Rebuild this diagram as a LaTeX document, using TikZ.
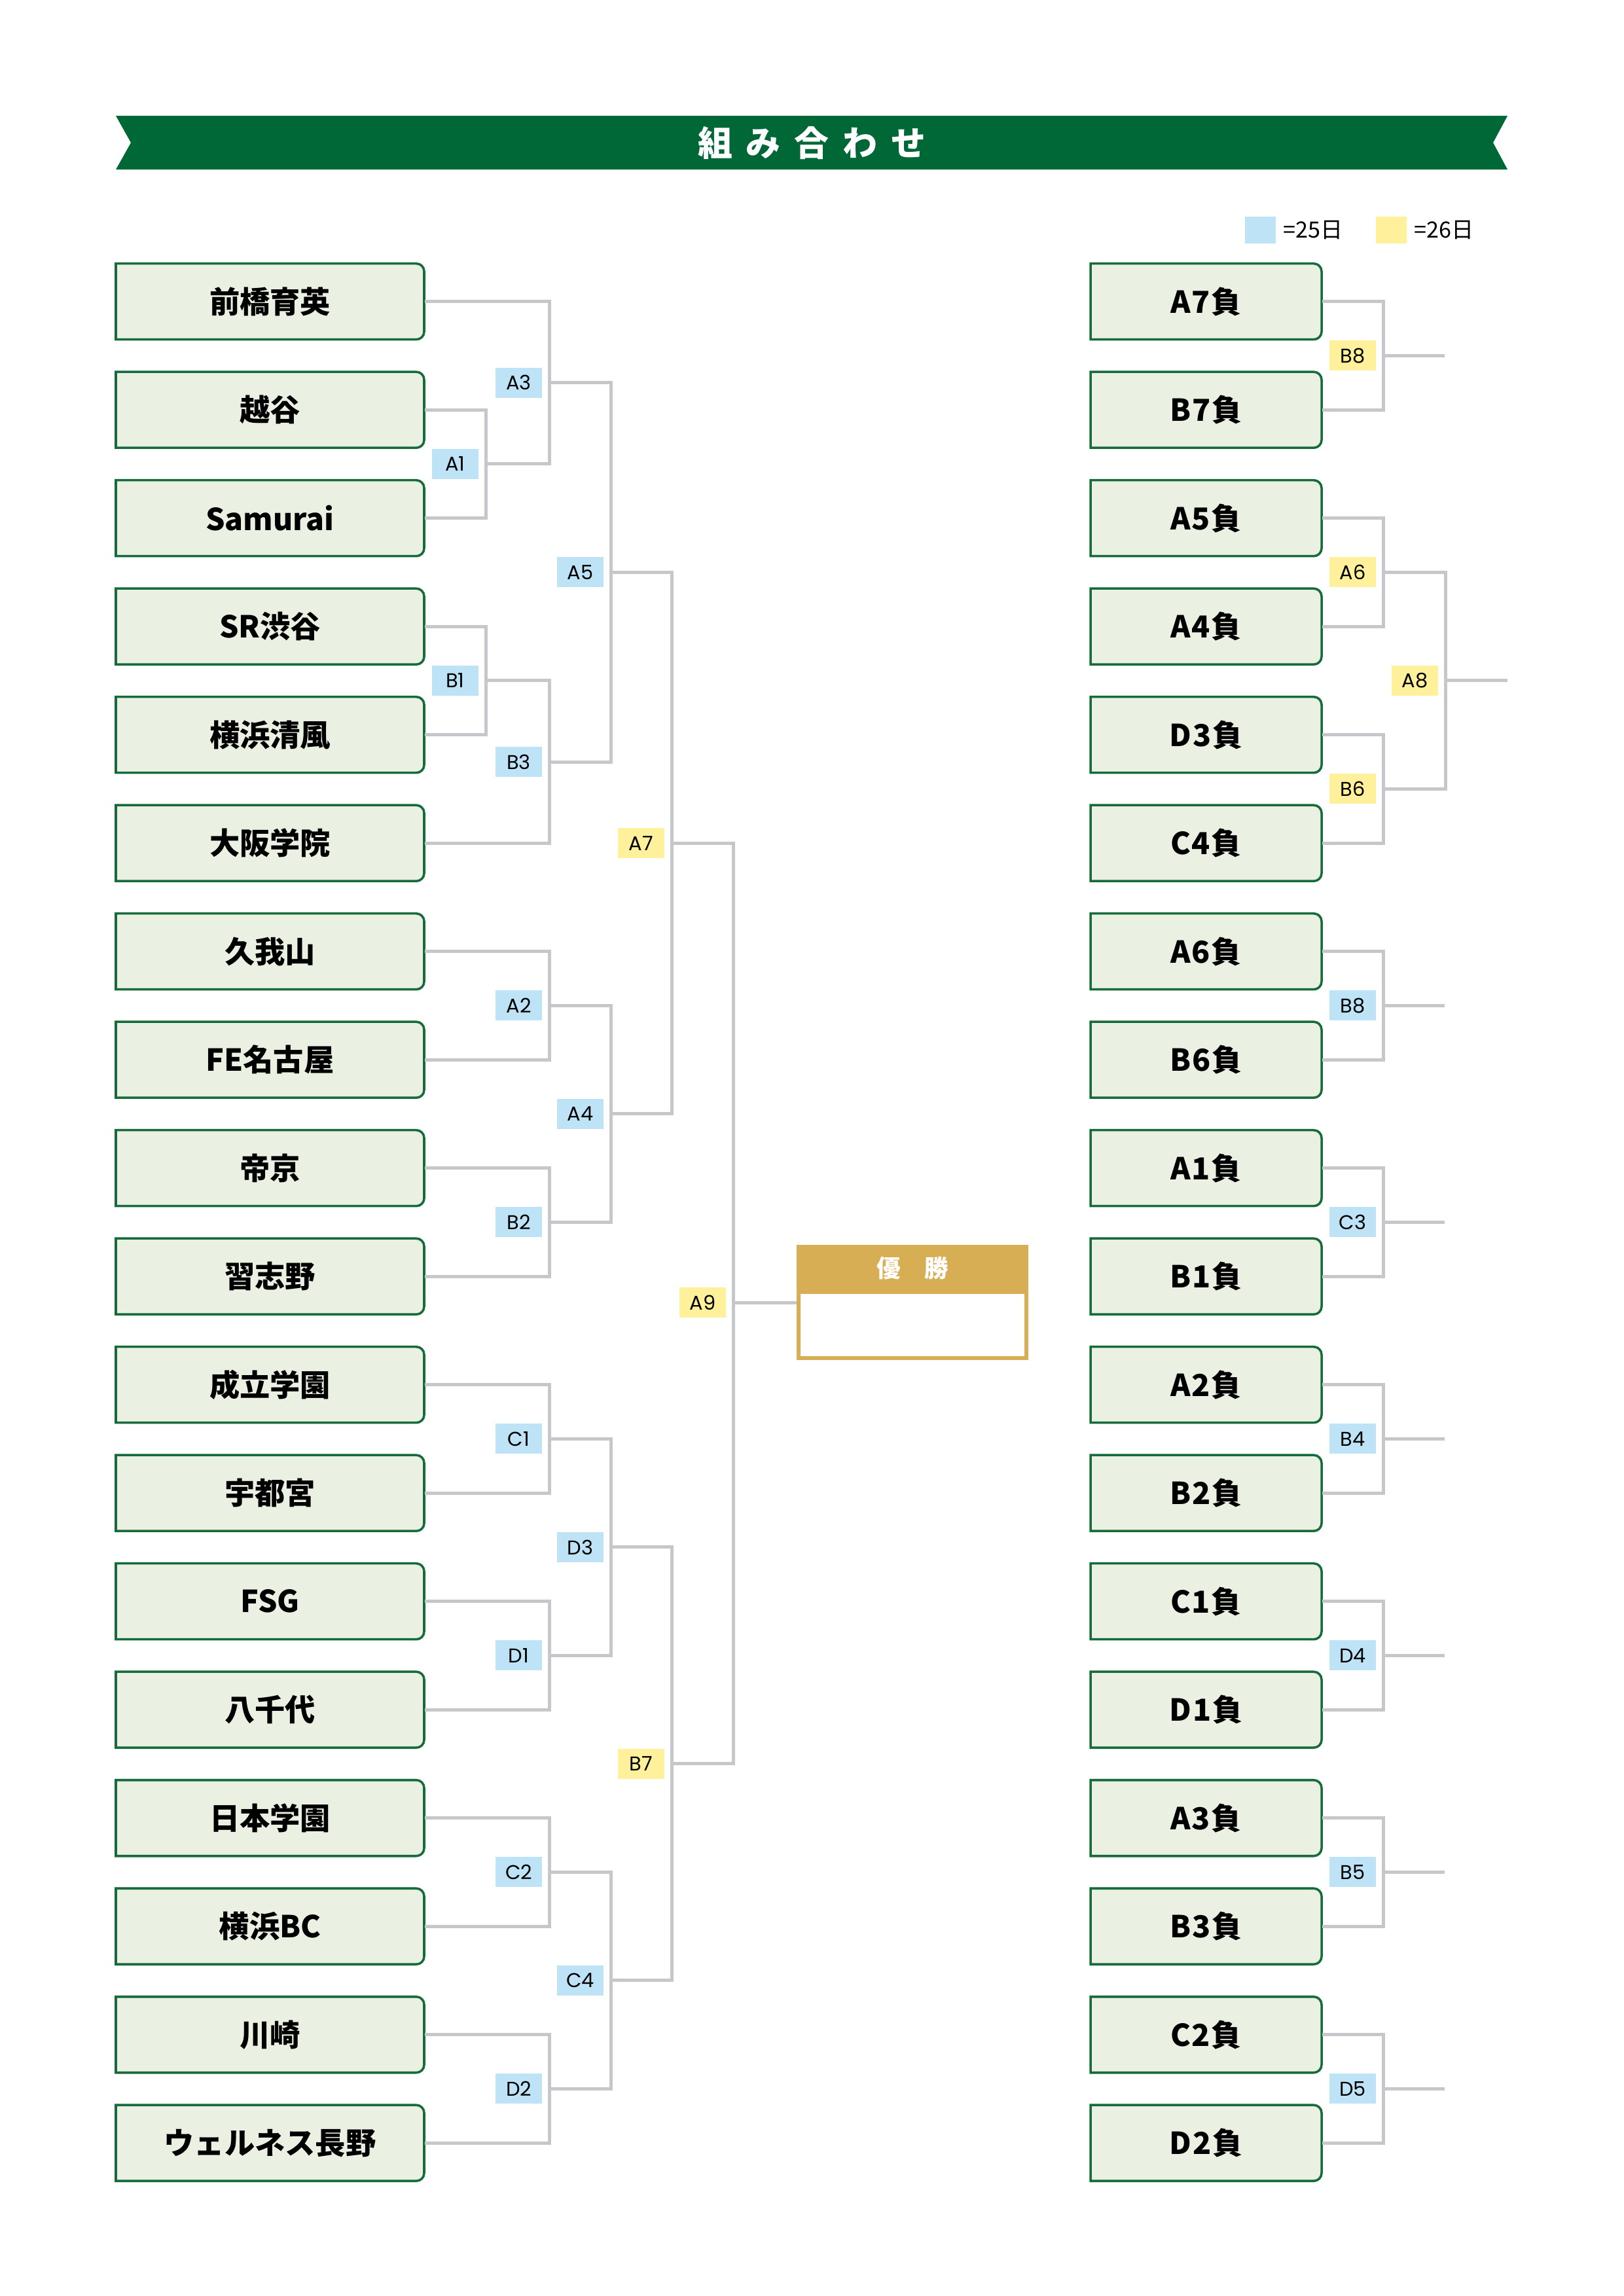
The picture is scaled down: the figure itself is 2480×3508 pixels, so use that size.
\documentclass[tikz,border=0pt]{standalone}
\usepackage{fontspec}
\newfontfamily\jp{Noto Sans CJK JP}
\newfontfamily\labfont{Poppins}
\definecolor{bannergreen}{RGB}{0,104,55}
\definecolor{boxfill}{RGB}{234,241,226}
\definecolor{boxline}{RGB}{22,107,58}
\definecolor{linegray}{RGB}{198,199,202}
\definecolor{labblue}{RGB}{190,227,247}
\definecolor{labyellow}{RGB}{255,240,155}
\definecolor{gold}{RGB}{216,174,84}
\newcommand\tmbox[6]{%
  \filldraw[boxshape] (#2,{-#4-58}) -- (#2,{-#4+58}) -- ({#3-12},{-#4+58})
     arc[start angle=90,end angle=0,radius=2.88pt] -- (#3,{-#4-46})
     arc[start angle=0,end angle=-90,radius=2.88pt] -- cycle;
  \node[#5] (#1) at ({(#2+#3)/2},-#4) {#6};
}
\newcommand\lbox[3]{\tmbox{#1}{177}{648}{#2}{lteam}{#3}}
\newcommand\rbox[3]{\tmbox{#1}{1666}{2019}{#2}{rteam}{#3}}
\begin{document}
\begin{tikzpicture}[x=0.24pt,y=0.24pt,
  boxshape/.style={fill=boxfill,draw=boxline,line width=0.85pt},
  team/.style={rectangle,inner sep=0pt,minimum height=27.84pt,text=black,
    font={\jp\bfseries\fontsize{11.1pt}{13pt}\selectfont}},
  lteam/.style={team,minimum width=113.04pt},
  rteam/.style={team,minimum width=84.72pt,font={\jp\bfseries\fontsize{11.1pt}{13pt}\selectfont\addfontfeatures{LetterSpace=4}}},
  bline/.style={draw=linegray,line width=1.2pt},
  lab/.style={rectangle,inner sep=0pt,minimum width=17.04pt,minimum height=11.04pt,
    text=black,font={\labfont\fontsize{7.3pt}{8pt}\selectfont}},
  blu/.style={lab,fill=labblue},
  yel/.style={lab,fill=labyellow},
  legtext/.style={anchor=west,inner sep=0pt,text=black,font={\jp\fontsize{8.2pt}{9pt}\selectfont}},
]
\useasboundingbox (0,0) rectangle (2480,-3508);
\fill[white] (0,0) rectangle (2480,-3508);

% banner
\fill[bannergreen] (177,-177) -- (2303,-177) -- (2281,-218) -- (2303,-259) -- (177,-259) -- (200,-218) -- cycle;
\node[text=white,font={\jp\bfseries\fontsize{12.7pt}{14pt}\selectfont}] (title) at (1240,-218)
  {組\hspace{5pt}み\hspace{5pt}合\hspace{5pt}わ\hspace{5pt}せ};

% legend
\node[fill=labblue,inner sep=0pt,minimum width=11.28pt,minimum height=9.84pt] (legB) at (1925.5,-351.5) {};
\node[legtext] (legBt) at (1960,-351.5) {=25日};
\node[fill=labyellow,inner sep=0pt,minimum width=11.28pt,minimum height=9.84pt] (legY) at (2125.5,-351.5) {};
\node[legtext] (legYt) at (2160,-351.5) {=26日};

% left teams
\lbox{t1}{460.7}{前橋育英}
\lbox{t2}{626.2}{越谷}
\lbox{t3}{791.7}{Samurai}
\lbox{t4}{957.2}{SR渋谷}
\lbox{t5}{1122.7}{横浜清風}
\lbox{t6}{1288.2}{大阪学院}
\lbox{t7}{1453.7}{久我山}
\lbox{t8}{1619.2}{FE名古屋}
\lbox{t9}{1784.7}{帝京}
\lbox{t10}{1950.2}{習志野}
\lbox{t11}{2115.7}{成立学園}
\lbox{t12}{2281.2}{宇都宮}
\lbox{t13}{2446.7}{FSG}
\lbox{t14}{2612.2}{八千代}
\lbox{t15}{2777.7}{日本学園}
\lbox{t16}{2943.2}{横浜BC}
\lbox{t17}{3108.7}{川崎}
\lbox{t18}{3274.2}{ウェルネス長野}

% right teams
\rbox{r1}{460.7}{A7負}
\rbox{r2}{626.2}{B7負}
\rbox{r3}{791.7}{A5負}
\rbox{r4}{957.2}{A4負}
\rbox{r5}{1122.7}{D3負}
\rbox{r6}{1288.2}{C4負}
\rbox{r7}{1453.7}{A6負}
\rbox{r8}{1619.2}{B6負}
\rbox{r9}{1784.7}{A1負}
\rbox{r10}{1950.2}{B1負}
\rbox{r11}{2115.7}{A2負}
\rbox{r12}{2281.2}{B2負}
\rbox{r13}{2446.7}{C1負}
\rbox{r14}{2612.2}{D1負}
\rbox{r15}{2777.7}{A3負}
\rbox{r16}{2943.2}{B3負}
\rbox{r17}{3108.7}{C2負}
\rbox{r18}{3274.2}{D2負}

% champion box
\node[draw=gold,line width=1.44pt,inner sep=0pt,minimum width=83.52pt,minimum height=40.8pt] (champ) at (1394,-1990) {};
\fill[gold] (1217,-1902) rectangle (1571,-1977);
\node[text=white,font={\jp\bfseries\fontsize{8.8pt}{10pt}\selectfont}] (champt) at (1394,-1938) {優　勝};

% match points (left)
\coordinate (mA1) at (742,-708.95);
\coordinate (mA3) at (839,-584.83);
\coordinate (mB1) at (742,-1039.95);
\coordinate (mB3) at (839,-1164.08);
\coordinate (mA5) at (933,-874.45);
\coordinate (mA2) at (839,-1536.45);
\coordinate (mB2) at (839,-1867.45);
\coordinate (mA4) at (933,-1701.95);
\coordinate (mA7) at (1026,-1288.2);
\coordinate (mC1) at (839,-2198.45);
\coordinate (mD1) at (839,-2529.45);
\coordinate (mD3) at (933,-2363.95);
\coordinate (mC2) at (839,-2860.45);
\coordinate (mD2) at (839,-3191.45);
\coordinate (mC4) at (933,-3025.95);
\coordinate (mB7) at (1026,-2694.95);
\coordinate (mA9) at (1120,-1990);

% match points (right)
\coordinate (nB8a) at (2113,-543.45);   \coordinate (eB8a) at (2207,-543.45);
\coordinate (nA6) at (2113,-874.45);
\coordinate (nB6) at (2113,-1205.45);
\coordinate (nA8) at (2208,-1039.95);   \coordinate (eA8) at (2303,-1039.95);
\coordinate (nB8) at (2113,-1536.45);   \coordinate (eB8) at (2207,-1536.45);
\coordinate (nC3) at (2113,-1867.45);   \coordinate (eC3) at (2207,-1867.45);
\coordinate (nB4) at (2113,-2198.45);   \coordinate (eB4) at (2207,-2198.45);
\coordinate (nD4) at (2113,-2529.45);   \coordinate (eD4) at (2207,-2529.45);
\coordinate (nB5) at (2113,-2860.45);   \coordinate (eB5) at (2207,-2860.45);
\coordinate (nD5) at (2113,-3191.45);   \coordinate (eD5) at (2207,-3191.45);

% connectors (left)
\draw[bline] (t2.east) -| (mA1) |- (t3.east);
\draw[bline] (t1.east) -| (mA3) |- (mA1);
\draw[bline] (t4.east) -| (mB1) |- (t5.east);
\draw[bline] (mB1) -| (mB3) |- (t6.east);
\draw[bline] (mA3) -| (mA5) |- (mB3);
\draw[bline] (t7.east) -| (mA2) |- (t8.east);
\draw[bline] (t9.east) -| (mB2) |- (t10.east);
\draw[bline] (mA2) -| (mA4) |- (mB2);
\draw[bline] (mA5) -| (mA7) |- (mA4);
\draw[bline] (t11.east) -| (mC1) |- (t12.east);
\draw[bline] (t13.east) -| (mD1) |- (t14.east);
\draw[bline] (mC1) -| (mD3) |- (mD1);
\draw[bline] (t15.east) -| (mC2) |- (t16.east);
\draw[bline] (t17.east) -| (mD2) |- (t18.east);
\draw[bline] (mC2) -| (mC4) |- (mD2);
\draw[bline] (mD3) -| (mB7) |- (mC4);
\draw[bline] (mA7) -| (mA9) |- (mB7);
\draw[bline] (mA9) -- (champ.west);

% connectors (right)
\draw[bline] (r1.east) -| (nB8a) |- (r2.east);  \draw[bline] (nB8a) -- (eB8a);
\draw[bline] (r3.east) -| (nA6) |- (r4.east);
\draw[bline] (r5.east) -| (nB6) |- (r6.east);
\draw[bline] (nA6) -| (nA8) |- (nB6);           \draw[bline] (nA8) -- (eA8);
\draw[bline] (r7.east) -| (nB8) |- (r8.east);    \draw[bline] (nB8) -- (eB8);
\draw[bline] (r9.east) -| (nC3) |- (r10.east);   \draw[bline] (nC3) -- (eC3);
\draw[bline] (r11.east) -| (nB4) |- (r12.east);  \draw[bline] (nB4) -- (eB4);
\draw[bline] (r13.east) -| (nD4) |- (r14.east);  \draw[bline] (nD4) -- (eD4);
\draw[bline] (r15.east) -| (nB5) |- (r16.east);  \draw[bline] (nB5) -- (eB5);
\draw[bline] (r17.east) -| (nD5) |- (r18.east);  \draw[bline] (nD5) -- (eD5);

% labels (left)
\node[blu] (lA1) at ([xshift=-11.16pt]mA1) {A1};
\node[blu] (lA3) at ([xshift=-11.16pt]mA3) {A3};
\node[blu] (lB1) at ([xshift=-11.16pt]mB1) {B1};
\node[blu] (lB3) at ([xshift=-11.16pt]mB3) {B3};
\node[blu] (lA5) at ([xshift=-11.16pt]mA5) {A5};
\node[blu] (lA2) at ([xshift=-11.16pt]mA2) {A2};
\node[blu] (lB2) at ([xshift=-11.16pt]mB2) {B2};
\node[blu] (lA4) at ([xshift=-11.16pt]mA4) {A4};
\node[yel] (lA7) at ([xshift=-11.16pt]mA7) {A7};
\node[blu] (lC1) at ([xshift=-11.16pt]mC1) {C1};
\node[blu] (lD1) at ([xshift=-11.16pt]mD1) {D1};
\node[blu] (lD3) at ([xshift=-11.16pt]mD3) {D3};
\node[blu] (lC2) at ([xshift=-11.16pt]mC2) {C2};
\node[blu] (lD2) at ([xshift=-11.16pt]mD2) {D2};
\node[blu] (lC4) at ([xshift=-11.16pt]mC4) {C4};
\node[yel] (lB7) at ([xshift=-11.16pt]mB7) {B7};
\node[yel] (lA9) at ([xshift=-11.16pt]mA9) {A9};

% labels (right)
\node[yel] (kB8a) at ([xshift=-11.16pt]nB8a) {B8};
\node[yel] (kA6) at ([xshift=-11.16pt]nA6) {A6};
\node[yel] (kB6) at ([xshift=-11.16pt]nB6) {B6};
\node[yel] (kA8) at ([xshift=-11.16pt]nA8) {A8};
\node[blu] (kB8) at ([xshift=-11.16pt]nB8) {B8};
\node[blu] (kC3) at ([xshift=-11.16pt]nC3) {C3};
\node[blu] (kB4) at ([xshift=-11.16pt]nB4) {B4};
\node[blu] (kD4) at ([xshift=-11.16pt]nD4) {D4};
\node[blu] (kB5) at ([xshift=-11.16pt]nB5) {B5};
\node[blu] (kD5) at ([xshift=-11.16pt]nD5) {D5};
\end{tikzpicture}
\end{document}
